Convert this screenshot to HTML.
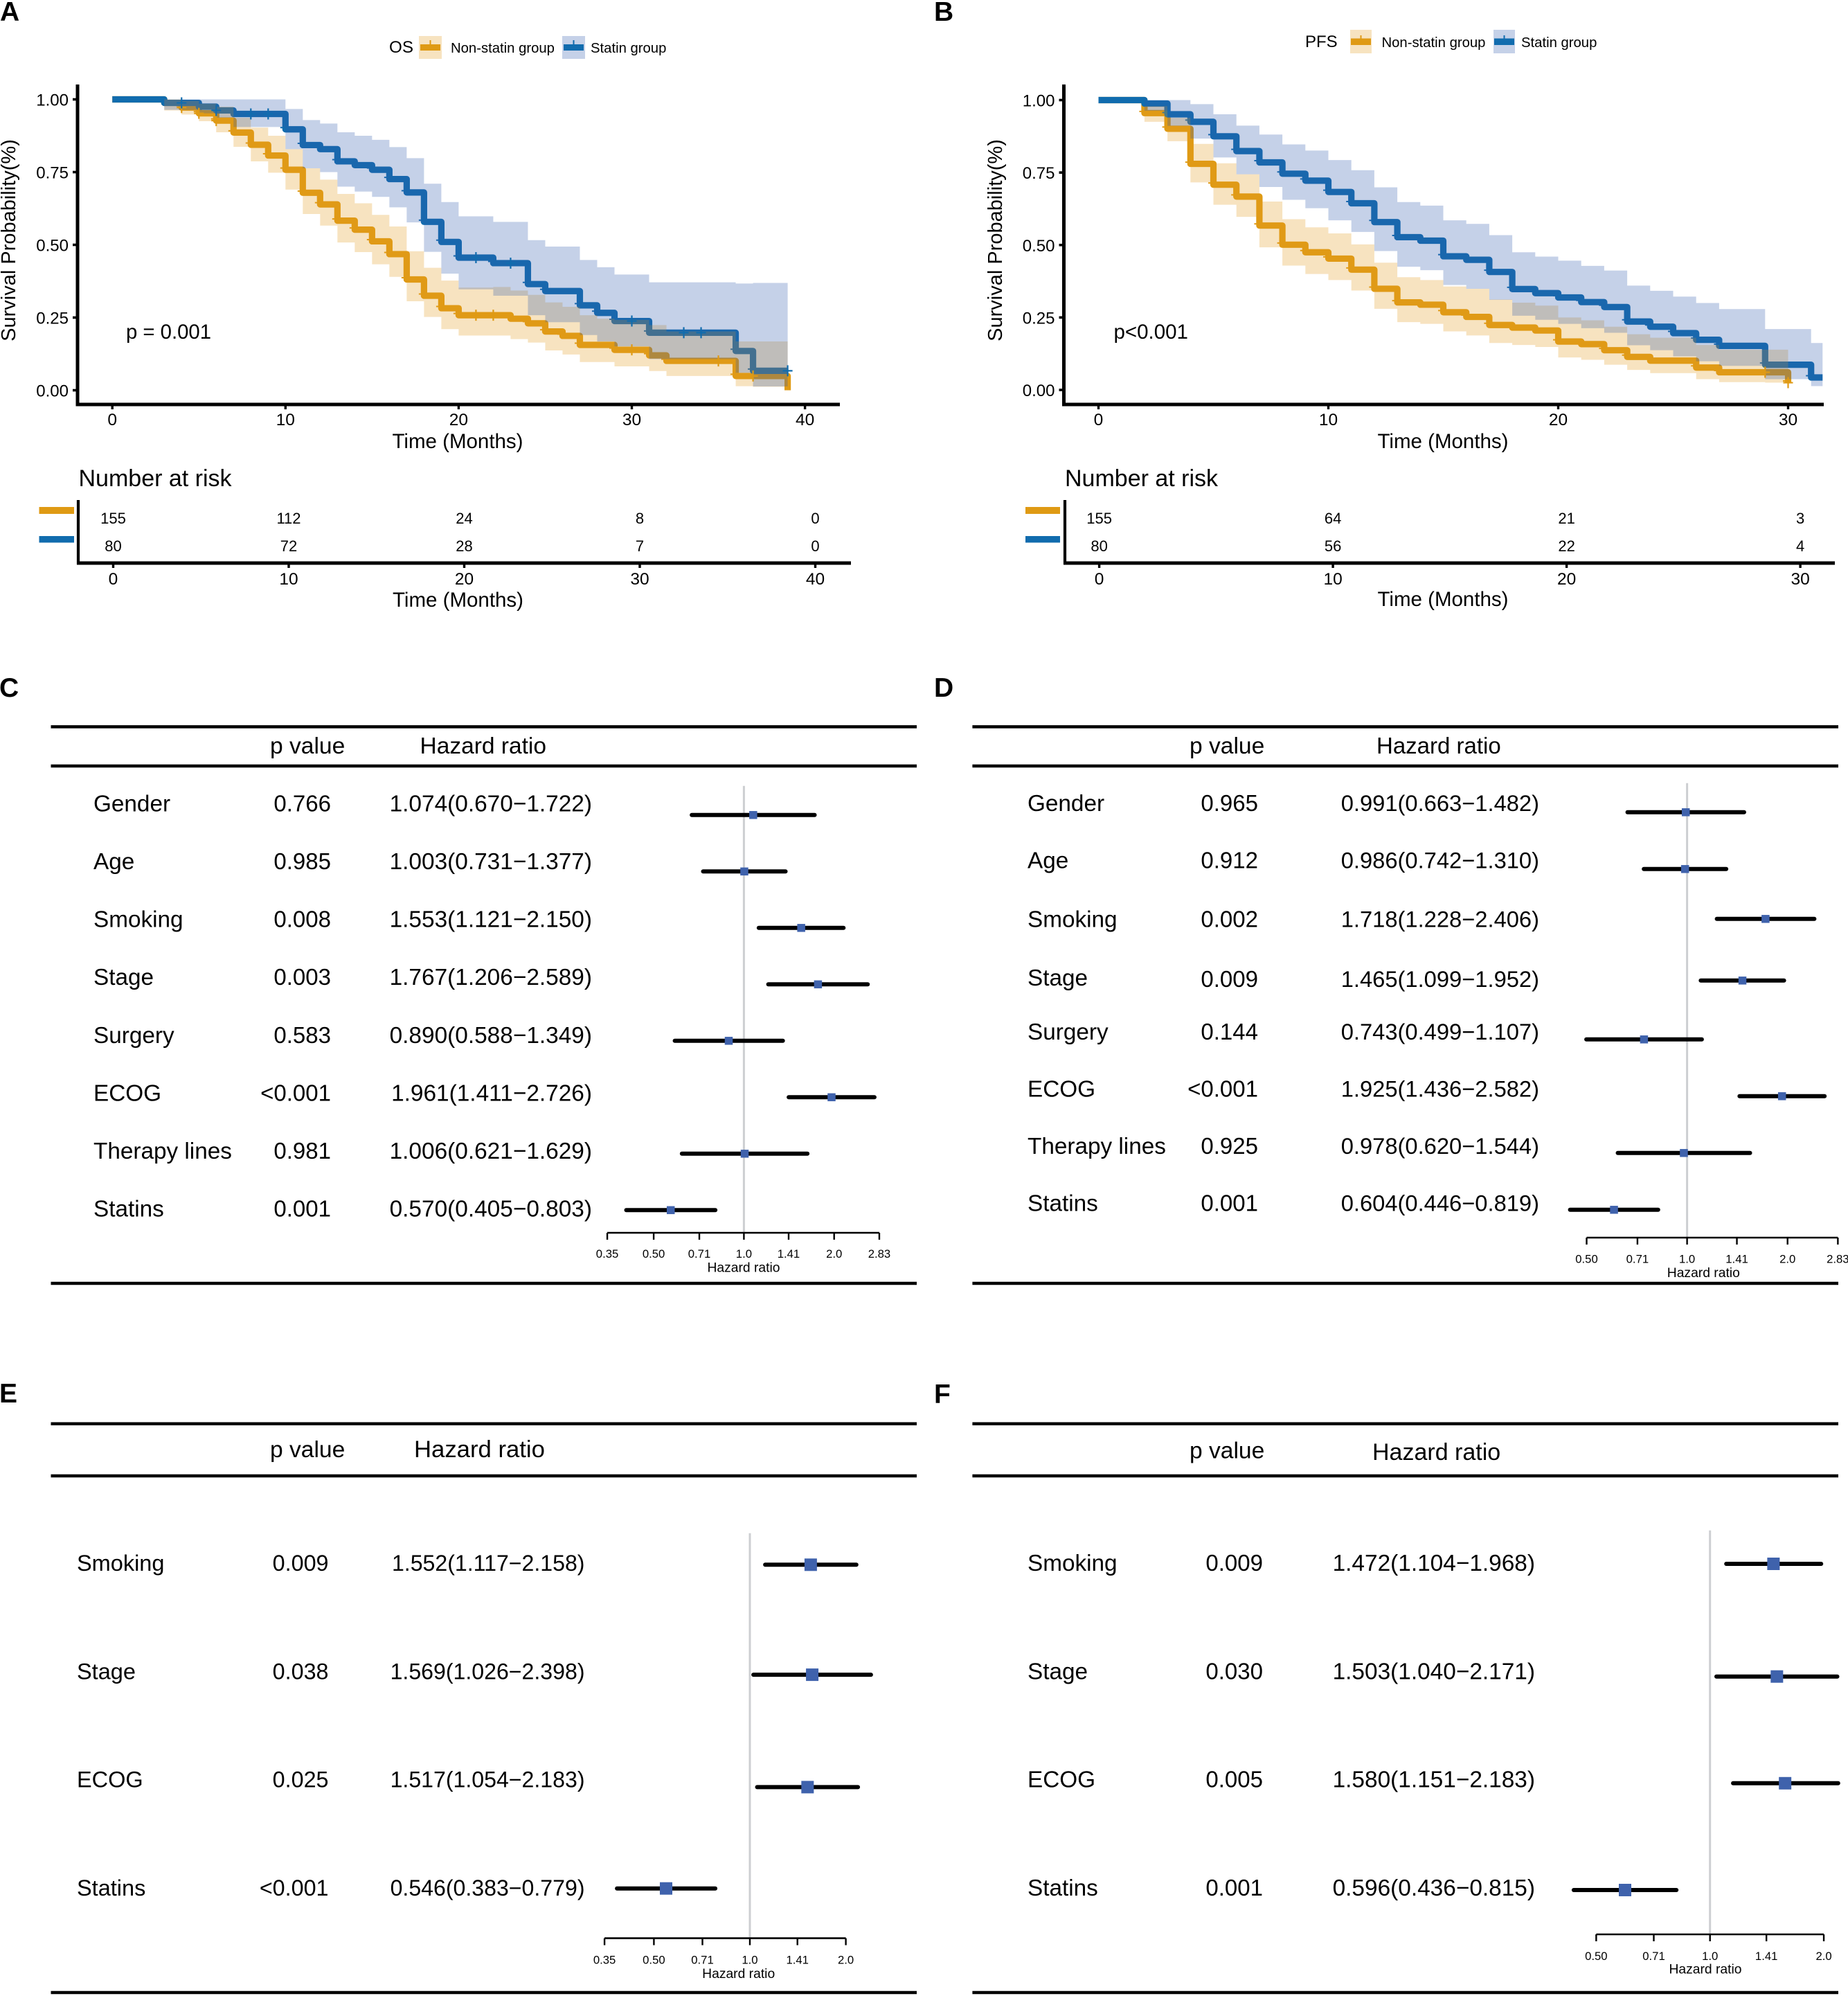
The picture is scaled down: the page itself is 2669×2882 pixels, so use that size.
<!DOCTYPE html>
<html lang="en">
<head>
<meta charset="utf-8">
<title>Survival curves and forest plots</title>
<style>
html,body{margin:0;padding:0;background:#fff;}
svg{display:block;}
text{font-family:"Liberation Sans",Arial,sans-serif;fill:#000;}
.letter{font-weight:bold;font-size:39px;}
</style>
</head>
<body>
<svg id="figure" xmlns="http://www.w3.org/2000/svg" width="2669" height="2882" viewBox="0 0 2669 2882">
<rect x="0" y="0" width="2669" height="2882" fill="#fff"/>
<g id="panel-a">
  <text class="letter" x="0" y="30">A</text>
  <text x="562" y="76" font-size="24.2">OS</text>
  <rect x="605" y="52" width="33" height="33" fill="#E29B1E" fill-opacity=".28"/>
  <rect x="607" y="64" width="29" height="9" fill="#DF9A14"/>
  <rect x="620.5" y="58" width="2" height="8" fill="#DF9A14"/>
  <text x="651" y="76" font-size="20.3">Non-statin group</text>
  <rect x="812" y="52" width="33" height="33" fill="#305BAD" fill-opacity=".28"/>
  <rect x="814" y="64" width="29" height="9" fill="#116CAE"/>
  <rect x="827.5" y="58" width="2" height="8" fill="#116CAE"/>
  <text x="853" y="76" font-size="20.3">Statin group</text>
  <text x="182" y="489" font-size="29.3">p = 0.001</text>
  <text transform="translate(22,347) rotate(-90)" text-anchor="middle" font-size="29">Survival Probability(%)</text>
  <text x="661" y="647" text-anchor="middle" font-size="29.5">Time (Months)</text>
  <text x="113.5" y="702" font-size="34">Number at risk</text>
  <rect x="56.5" y="732" width="50.5" height="10" fill="#DF9A14"/>
  <rect x="56.5" y="774" width="50.5" height="9.5" fill="#116CAE"/>
  <text x="661.5" y="876" text-anchor="middle" font-size="29.5">Time (Months)</text>
</g>
<g id="panel-b">
  <text class="letter" x="1349" y="30">B</text>
  <text x="1885" y="68" font-size="24">PFS</text>
  <rect x="1950" y="43" width="31" height="34" fill="#E29B1E" fill-opacity=".28"/>
  <rect x="1951" y="55.5" width="29" height="9.5" fill="#DF9A14"/>
  <rect x="1964.5" y="51" width="2" height="6" fill="#DF9A14"/>
  <text x="1995.5" y="68" font-size="20.3">Non-statin group</text>
  <rect x="2157" y="43" width="31" height="34" fill="#305BAD" fill-opacity=".28"/>
  <rect x="2158" y="55.5" width="29" height="9.5" fill="#116CAE"/>
  <rect x="2171.5" y="51" width="2" height="6" fill="#116CAE"/>
  <text x="2197" y="68" font-size="20.3">Statin group</text>
  <text x="1608.5" y="489" font-size="29.5">p&lt;0.001</text>
  <text transform="translate(1447,347) rotate(-90)" text-anchor="middle" font-size="29">Survival Probability(%)</text>
  <text x="2084" y="647" text-anchor="middle" font-size="29.5">Time (Months)</text>
  <text x="1538" y="702" font-size="34">Number at risk</text>
  <rect x="1481" y="732" width="50" height="10" fill="#DF9A14"/>
  <rect x="1481" y="774" width="50" height="9.5" fill="#116CAE"/>
  <text x="2084" y="875" text-anchor="middle" font-size="29.5">Time (Months)</text>
</g>
<g id="panel-c">
  <text class="letter" x="-1" y="1006">C</text>
</g>
<g id="panel-d">
  <text class="letter" x="1349" y="1006">D</text>
</g>
<g id="panel-e">
  <text class="letter" x="-1" y="2025">E</text>
</g>
<g id="panel-f">
  <text class="letter" x="1349" y="2026">F</text>
</g>
</svg>
<script>
// ---------- Panel A data (value per month interval) ----------
const aNonStatinSurv = [1,1,1,.988,.972,.952,.927,.886,.844,.807,.758,.679,.639,.583,.552,.512,.468,.381,.325,.282,.258,.258,.258,.246,.230,.202,.187,.156,.156,.139,.139,.120,.101,.101,.101,.101,.049,.049,.049,0];
const aNonStatinUpper = [1,1,1,1,.995,.985,.975,.937,.903,.875,.829,.763,.724,.675,.643,.603,.563,.478,.421,.377,.353,.353,.355,.343,.328,.302,.287,.258,.246,.242,.242,.224,.202,.202,.202,.202,.168,.168,.168];
const aNonStatinLower = [1,1,1,.962,.948,.925,.887,.837,.787,.748,.690,.606,.566,.508,.475,.433,.390,.306,.252,.210,.188,.188,.188,.176,.164,.137,.123,.097,.097,.082,.082,.066,.049,.049,.049,.049,.014,.012,.012];
const aStatinSurv = [1,1,1,.988,.988,.975,.962,.95,.95,.95,.897,.843,.829,.787,.774,.758,.726,.68,.579,.51,.456,.456,.437,.437,.365,.341,.341,.292,.266,.238,.238,.198,.198,.198,.198,.198,.135,.067,.067,.067];
const aStatinUpper = [1,1,1,1,1,1,1,1,1,1,.967,.929,.917,.887,.875,.861,.836,.798,.71,.647,.598,.598,.579,.579,.516,.494,.494,.448,.423,.398,.398,.371,.371,.371,.371,.371,.367,.369,.369];
const aStatinLower = [1,1,1,.964,.964,.952,.937,.905,.905,.905,.829,.763,.75,.7,.683,.665,.629,.577,.476,.401,.347,.347,.325,.325,.258,.234,.234,.19,.168,.151,.151,.107,.107,.107,.107,.107,.06,.013,.013];
const aNonStatinCensor = [4,5,6,21,22,30,35,37];
const aStatinCensor = [4,6,8,9,21,23,30,33,34,39];
const aTimeTicks = [0,10,20,30,40];
const aRiskNonStatin = [155,112,24,8,0];
const aRiskStatin = [80,72,28,7,0];

// ---------- Panel B data ----------
const bNonStatinSurv = [1,1,.955,.901,.78,.708,.667,.567,.501,.475,.453,.415,.349,.302,.294,.268,.252,.224,.215,.205,.167,.158,.137,.114,.101,.101,.077,.061,.061,.061,.025];
const bNonStatinUpper = [1,1,.979,.939,.849,.782,.744,.65,.589,.561,.54,.502,.439,.389,.379,.357,.349,.312,.301,.291,.25,.24,.218,.192,.18,.18,.155,.139,.139,.139];
const bNonStatinLower = [1,1,.925,.858,.716,.639,.597,.492,.429,.4,.379,.343,.28,.234,.228,.202,.188,.162,.155,.148,.112,.104,.087,.069,.058,.058,.037,.027,.027,.025];
const bStatinSurv = [1,1,.988,.951,.925,.875,.824,.785,.746,.722,.683,.644,.579,.527,.515,.461,.449,.407,.348,.334,.319,.303,.286,.236,.218,.196,.173,.152,.152,.087,.087,.043];
const bStatinUpper = [1,1,1,1,.986,.951,.912,.881,.847,.826,.793,.758,.699,.648,.636,.585,.573,.534,.475,.46,.446,.428,.412,.36,.342,.322,.3,.279,.279,.21,.21,.162];
const bStatinLower = [1,1,.963,.911,.867,.802,.744,.7,.656,.627,.585,.545,.479,.425,.413,.362,.349,.311,.256,.242,.228,.213,.197,.154,.137,.116,.099,.083,.083,.037,.037,.013];
const bNonStatinCensor = [29,30];
const bStatinCensor = [];
const bTimeTicks = [0,10,20,30];
const bRiskNonStatin = [155,64,21,3];
const bRiskStatin = [80,56,22,4];

const survivalTicks = [0,0.25,0.5,0.75,1];

// ---------- Forest data ----------
const cFactors = ["Gender","Age","Smoking","Stage","Surgery","ECOG","Therapy lines","Statins"];
const cPValues = ["0.766","0.985","0.008","0.003","0.583","<0.001","0.981","0.001"];
const cHazard = [1.074,1.003,1.553,1.767,0.890,1.961,1.006,0.570];
const cLower = [0.670,0.731,1.121,1.206,0.588,1.411,0.621,0.405];
const cUpper = [1.722,1.377,2.150,2.589,1.349,2.726,1.629,0.803];
const cTicks = ["0.35","0.50","0.71","1.0","1.41","2.0","2.83"];

const dFactors = ["Gender","Age","Smoking","Stage","Surgery","ECOG","Therapy lines","Statins"];
const dPValues = ["0.965","0.912","0.002","0.009","0.144","<0.001","0.925","0.001"];
const dHazard = [0.991,0.986,1.718,1.465,0.743,1.925,0.978,0.604];
const dLower = [0.663,0.742,1.228,1.099,0.499,1.436,0.620,0.446];
const dUpper = [1.482,1.310,2.406,1.952,1.107,2.582,1.544,0.819];
const dTicks = ["0.50","0.71","1.0","1.41","2.0","2.83"];

const eFactors = ["Smoking","Stage","ECOG","Statins"];
const ePValues = ["0.009","0.038","0.025","<0.001"];
const eHazard = [1.552,1.569,1.517,0.546];
const eLower = [1.117,1.026,1.054,0.383];
const eUpper = [2.158,2.398,2.183,0.779];
const eTicks = ["0.35","0.50","0.71","1.0","1.41","2.0"];

const fFactors = ["Smoking","Stage","ECOG","Statins"];
const fPValues = ["0.009","0.030","0.005","0.001"];
const fHazard = [1.472,1.503,1.580,0.596];
const fLower = [1.104,1.040,1.151,0.436];
const fUpper = [1.968,2.171,2.183,0.815];
const fTicks = ["0.50","0.71","1.0","1.41","2.0"];

const NS = "http://www.w3.org/2000/svg";
const ORANGE = "#DF9A14", BLUE = "#116CAE", ORANGE_BAND = "#E29B1E", BLUE_BAND = "#305BAD";

function make(tag, attrs, parent, content) {
  const el = document.createElementNS(NS, tag);
  for (const k in attrs) el.setAttribute(k, attrs[k]);
  if (content !== undefined) el.textContent = content;
  parent.appendChild(el);
  return el;
}

function stepPath(values, xs, ys, end) {
  let d = "";
  values.forEach(function (v, i) {
    const x0 = xs(i), x1 = xs(Math.min(i + 1, end));
    d += (i === 0 ? "M" : "L") + x0 + " " + ys(v) + "L" + x1 + " " + ys(v);
  });
  return d;
}

function ribbonPath(upper, lower, xs, ys, end) {
  let top = "", bottom = "";
  upper.forEach(function (v, i) {
    const x0 = xs(i), x1 = xs(Math.min(i + 1, end));
    top += (i === 0 ? "M" : "L") + x0 + " " + ys(v) + "L" + x1 + " " + ys(v);
    bottom = "L" + x1 + " " + ys(lower[i]) + "L" + x0 + " " + ys(lower[i]) + bottom;
  });
  return top + bottom + "Z";
}

function eventNotches(values, xs, ys) {
  let d = "";
  values.forEach(function (v, i) {
    if (i > 0 && v < values[i - 1] && v > 0) d += "M" + (xs(i) - 7.5) + " " + (ys(v) - 2.5) + "h8";
  });
  return d;
}

function drawSurvival(cfg) {
  const g = document.getElementById(cfg.id);
  const xs = function (t) { return cfg.x0 + cfg.pxPerMonth * t; };
  const ys = function (v) { return cfg.y0 - cfg.pxPerUnit * v; };
  const clip = Math.min;

  const orangeLine = make("path", {d: stepPath(cfg.nonStatinSurv, xs, ys, cfg.endN), fill: "none", stroke: ORANGE, "stroke-width": 9.2, "stroke-linejoin": "round"}, g);
  
  

  const orangeNotches = make("path", {d: eventNotches(cfg.nonStatinSurv, xs, ys), fill: "none", stroke: ORANGE, "stroke-width": 2}, g);
  
  

  const blueLine = make("path", {d: stepPath(cfg.statinSurv, xs, ys, cfg.endS), fill: "none", stroke: BLUE, "stroke-width": 9.2, "stroke-linejoin": "round"}, g);
  
  

  const blueNotches = make("path", {d: eventNotches(cfg.statinSurv, xs, ys), fill: "none", stroke: BLUE, "stroke-width": 2}, g);
  
  

  const orangeBand = make("path", {d: ribbonPath(cfg.nonStatinUpper, cfg.nonStatinLower, xs, ys, cfg.endN), fill: ORANGE_BAND, "fill-opacity": 0.28}, g);
  
  

  const blueBand = make("path", {d: ribbonPath(cfg.statinUpper, cfg.statinLower, xs, ys, cfg.endS), fill: BLUE_BAND, "fill-opacity": 0.28}, g);
  
  

  [[cfg.nonStatinCensor, cfg.nonStatinSurv, ORANGE], [cfg.statinCensor, cfg.statinSurv, BLUE]].forEach(function (s) {
    s[0].forEach(function (t) {
      const v = s[1][clip(t, s[1].length - 1)];
      const mark = make("path", {d: "M" + (xs(t) - 7) + " " + ys(v) + "h14M" + xs(t) + " " + (ys(v) - 8) + "v16", stroke: s[2], "stroke-width": 2.2, fill: "none"}, g);
      
      
    });
  });

  const yAxis = make("line", {x1: cfg.axisX, x2: cfg.axisX, y1: cfg.axisTop, y2: cfg.axisY + 2.5, stroke: "#000", "stroke-width": 5}, g);
  
  

  const xAxis = make("line", {x1: cfg.axisX - 2.5, x2: cfg.axisEnd, y1: cfg.axisY, y2: cfg.axisY, stroke: "#000", "stroke-width": 5}, g);
  
  

  survivalTicks.forEach(function (v) {
    const tick = make("line", {x1: cfg.axisX - 7, x2: cfg.axisX, y1: ys(v), y2: ys(v), stroke: "#000", "stroke-width": 3.6}, g);
    
    
    const label = make("text", {x: cfg.axisX - 13, y: ys(v) + 9, "text-anchor": "end", "font-size": 24}, g, v.toFixed(2));
    
    
  });

  cfg.timeTicks.forEach(function (t) {
    const tick = make("line", {x1: xs(t), x2: xs(t), y1: cfg.axisY, y2: cfg.axisY + 7, stroke: "#000", "stroke-width": 3.4}, g);
    
    
    const label = make("text", {x: xs(t), y: 614, "text-anchor": "middle", "font-size": 24.5}, g, String(t));
    
    
  });

  const rx = function (t) { return cfg.riskX0 + cfg.riskPx * t; };
  const riskY = make("line", {x1: cfg.riskAxisX, x2: cfg.riskAxisX, y1: 722, y2: 815, stroke: "#000", "stroke-width": 4.2}, g);
  
  
  const riskX = make("line", {x1: cfg.riskAxisX - 2, x2: cfg.riskEnd, y1: 813, y2: 813, stroke: "#000", "stroke-width": 5}, g);
  
  

  cfg.timeTicks.forEach(function (t, i) {
    const tick = make("line", {x1: rx(t), x2: rx(t), y1: 813, y2: 820, stroke: "#000", "stroke-width": 3.4}, g);
    
    
    const label = make("text", {x: rx(t), y: 844, "text-anchor": "middle", "font-size": 24.5}, g, String(t));
    
    
    const n1 = make("text", {x: rx(t), y: 756, "text-anchor": "middle", "font-size": 22}, g, String(cfg.riskNonStatin[i]));
    
    
    const n2 = make("text", {x: rx(t), y: 796, "text-anchor": "middle", "font-size": 22}, g, String(cfg.riskStatin[i]));
    
    
  });
}

function drawForest(cfg) {
  const g = document.getElementById(cfg.id);
  const xs = function (hr) { return cfg.x1 + cfg.pxPerLog2 * Math.log2(hr); };

  cfg.rules.forEach(function (y) {
    const rule = make("line", {x1: cfg.ruleStart, x2: cfg.ruleEnd, y1: y, y2: y, stroke: "#000", "stroke-width": 4.5}, g);
    
    
  });

  const h1 = make("text", {x: cfg.pHeadX, y: cfg.headY, "font-size": 33.6}, g, "p value");
  
  
  const h2 = make("text", {x: cfg.hrHeadX, y: cfg.hrHeadY, "font-size": cfg.hrHeadFont}, g, "Hazard ratio");
  
  

  const ref = make("line", {x1: cfg.x1, x2: cfg.x1, y1: cfg.refTop, y2: cfg.axisY, stroke: "#CDCFD2", "stroke-width": 3}, g);
  
  

  cfg.factors.forEach(function (name, i) {
    const ty = cfg.textTop + cfg.textStep * i + (cfg.textNudge ? cfg.textNudge[i] : 0) + 10.5;
    const vy = ty + (cfg.valueNudge ? cfg.valueNudge[i] : 0);
    const label = make("text", {x: cfg.labelX, y: ty, "font-size": cfg.labelFont}, g, name);
    
    
    const p = make("text", {x: cfg.pRight, y: vy, "text-anchor": "end", "font-size": cfg.pFont}, g, cfg.p[i]);
    
    
    const hrText = cfg.hr[i].toFixed(3) + "(" + cfg.lo[i].toFixed(3) + "\u2212" + cfg.hi[i].toFixed(3) + ")";
    const hr = make("text", {x: cfg.hrRight, y: vy, "text-anchor": "end", "font-size": cfg.hrFont}, g, hrText);
    
    

    const cy = cfg.ciTop + cfg.ciStep * i + (cfg.ciNudge ? cfg.ciNudge[i] : 0);
    const ci = make("line", {x1: xs(cfg.lo[i]), x2: xs(cfg.hi[i]), y1: cy, y2: cy, stroke: "#000", "stroke-width": 6, "stroke-linecap": "round"}, g);
    
    
    const box = make("rect", {x: xs(cfg.hr[i]) - cfg.box / 2, y: cy - cfg.box / 2, width: cfg.box, height: cfg.box, fill: "#3F62AC"}, g);
    
    
  });

  const ticks = cfg.ticks.map(Number);
  const axis = make("line", {x1: xs(ticks[0]), x2: xs(ticks[ticks.length - 1]), y1: cfg.axisY, y2: cfg.axisY, stroke: "#000", "stroke-width": 2.6}, g);
  
  

  cfg.ticks.forEach(function (t) {
    const x = xs(Number(t));
    const tick = make("line", {x1: x, x2: x, y1: cfg.axisY, y2: cfg.axisY + 10, stroke: "#000", "stroke-width": 2.4}, g);
    
    
    const label = make("text", {x: x, y: cfg.tickLabelY + 6, "text-anchor": "middle", "font-size": 16.7}, g, t);
    
    
  });

  const title = make("text", {x: cfg.titleX, y: cfg.titleY + 6, "text-anchor": "middle", "font-size": 19.3}, g, "Hazard ratio");
  
  
}

drawSurvival({
  id: "panel-a", x0: 162.2, pxPerMonth: 25.01, y0: 563.5, pxPerUnit: 420,
  endN: 39, endS: 39,
  axisX: 112, axisTop: 122, axisY: 584, axisEnd: 1213,
  nonStatinSurv: aNonStatinSurv, nonStatinUpper: aNonStatinUpper, nonStatinLower: aNonStatinLower,
  statinSurv: aStatinSurv, statinUpper: aStatinUpper, statinLower: aStatinLower,
  nonStatinCensor: aNonStatinCensor, statinCensor: aStatinCensor,
  timeTicks: aTimeTicks, riskNonStatin: aRiskNonStatin, riskStatin: aRiskStatin,
  riskX0: 163.5, riskPx: 25.35, riskAxisX: 113, riskEnd: 1229
});

drawSurvival({
  id: "panel-b", x0: 1586.5, pxPerMonth: 33.2, y0: 563, pxPerUnit: 418.5,
  endN: 30, endS: 31.5,
  axisX: 1536.5, axisTop: 122, axisY: 584, axisEnd: 2634,
  nonStatinSurv: bNonStatinSurv, nonStatinUpper: bNonStatinUpper, nonStatinLower: bNonStatinLower,
  statinSurv: bStatinSurv, statinUpper: bStatinUpper, statinLower: bStatinLower,
  nonStatinCensor: bNonStatinCensor, statinCensor: bStatinCensor,
  timeTicks: bTimeTicks, riskNonStatin: bRiskNonStatin, riskStatin: bRiskStatin,
  riskX0: 1587.6, riskPx: 33.75, riskAxisX: 1538, riskEnd: 2650
});

drawForest({
  id: "panel-c", factors: cFactors, p: cPValues, hr: cHazard, lo: cLower, hi: cUpper, ticks: cTicks,
  rules: [1049.4, 1106, 1853], ruleStart: 73.5, ruleEnd: 1324,
  pHeadX: 390, headY: 1088, hrHeadX: 606.5, hrHeadY: 1088, hrHeadFont: 33.5,
  x1: 1074.4, pxPerLog2: 130.3, refTop: 1134.7, axisY: 1780,
  labelX: 135, labelFont: 33.3, pFont: 33, pRight: 478, hrFont: 33.4, hrRight: 855,
  textTop: 1161, textStep: 83.57,
  ciTop: 1176.8, ciStep: 81.5, box: 11.5,
  tickLabelY: 1810, titleX: 1074, titleY: 1830.5
});

drawForest({
  id: "panel-d", factors: dFactors, p: dPValues, hr: dHazard, lo: dLower, hi: dUpper, ticks: dTicks,
  rules: [1049.4, 1106, 1853], ruleStart: 1404.4, ruleEnd: 2655,
  pHeadX: 1718, headY: 1088, hrHeadX: 1988, hrHeadY: 1088, hrHeadFont: 33,
  x1: 2436.6, pxPerLog2: 145.1, refTop: 1130.8, axisY: 1787,
  labelX: 1484, labelFont: 33.3, pFont: 33, pRight: 1817, hrFont: 32.7, hrRight: 2223,
  textTop: 1160.5, textStep: 82.5, textNudge: [0,0,2.5,4.5,0,0,0,0], valueNudge: [0,0,0,2,0,0,0,0],
  ciTop: 1172.8, ciStep: 82, ciNudge: [0,0,-10,-3,0,0,0,0], box: 11.5,
  tickLabelY: 1817.6, titleX: 2460.3, titleY: 1838
});

drawForest({
  id: "panel-e", factors: eFactors, p: ePValues, hr: eHazard, lo: eLower, hi: eUpper, ticks: eTicks,
  rules: [2055.7, 2131, 2877], ruleStart: 73.5, ruleEnd: 1324,
  pHeadX: 390, headY: 2104, hrHeadX: 598, hrHeadY: 2104, hrHeadFont: 34.7,
  x1: 1083, pxPerLog2: 138.6, refTop: 2213.7, axisY: 2798.6,
  labelX: 111, labelFont: 32.5, pFont: 32.3, pRight: 474.5, hrFont: 32.1, hrRight: 844.5,
  textTop: 2257.6, textStep: 156.3,
  ciTop: 2259.3, ciStep: 155.8, ciNudge: [0,3,9.5,0], box: 18,
  tickLabelY: 2829.6, titleX: 1066.7, titleY: 2850
});

drawForest({
  id: "panel-f", factors: fFactors, p: fPValues, hr: fHazard, lo: fLower, hi: fUpper, ticks: fTicks,
  rules: [2055.7, 2131, 2877], ruleStart: 1404.4, ruleEnd: 2655,
  pHeadX: 1718, headY: 2105.5, hrHeadX: 1982, hrHeadY: 2108, hrHeadFont: 34,
  x1: 2469.7, pxPerLog2: 164.35, refTop: 2209.8, axisY: 2793,
  labelX: 1484, labelFont: 33.3, pFont: 33, pRight: 1824, hrFont: 33.4, hrRight: 2217,
  textTop: 2257.6, textStep: 156.3,
  ciTop: 2258, ciStep: 157, ciNudge: [0,5.7,2.8,0], box: 18,
  tickLabelY: 2824, titleX: 2463, titleY: 2843.6
});
</script>
</body>
</html>
